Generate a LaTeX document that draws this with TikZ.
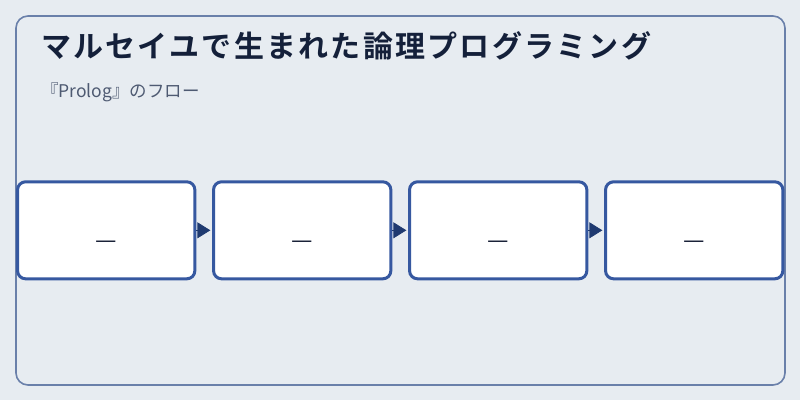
\documentclass[tikz,border=0pt]{standalone}
\usepackage{fontspec}
\setmainfont{Noto Sans CJK JP}[BoldFont={Noto Sans CJK JP Bold}]
\newfontfamily\titlefont{Noto Sans CJK JP Bold}[LetterSpace=7.5]
\usetikzlibrary{arrows.meta}
\definecolor{bgc}{HTML}{E7ECF1}
\definecolor{framec}{HTML}{6A80AA}
\definecolor{boxc}{HTML}{3658A0}
\definecolor{arrc}{HTML}{1F3A70}
\definecolor{titlec}{HTML}{14203A}
\definecolor{subc}{HTML}{4E5A72}
\definecolor{dashc}{HTML}{1A2238}
\tikzset{
  stepbox/.style={draw=boxc, line width=3pt, fill=white, rounded corners=8pt,
    minimum width=177.3pt, minimum height=97pt, inner sep=0pt},
  flowarrow/.style={draw=arrc, fill=arrc, line width=0.8pt, shorten >=1.7pt,
    -{Triangle[length=13pt,width=16pt]}},
  dashtxt/.style={text=dashc, font=\fontsize{24}{24}\selectfont, inner sep=0pt, anchor=base}
}
\begin{document}
\begin{tikzpicture}[x=1pt,y=-1pt]
\useasboundingbox (0,0) rectangle (800,400);
\fill[bgc] (0,0) rectangle (800,400);
\draw[framec, line width=1.6pt, rounded corners=12pt] (16,16) rectangle (785,385);
\node[anchor=base west, inner sep=0pt, text=titlec, font=\titlefont\fontsize{30}{34}\selectfont] (title) at (41,57.5) {マルセイユで生まれた論理プログラミング};
\node[anchor=base west, inner sep=0pt, text=subc, font=\fontsize{17.5}{20}\selectfont] (sub) at (41,97) {『Prolog』のフロー};
\node[stepbox] (b1) at (106.2,230.3) {};
\node[stepbox] (b2) at (302.2,230.3) {};
\node[stepbox] (b3) at (498.2,230.3) {};
\node[stepbox] (b4) at (694.2,230.3) {};
\node[dashtxt] (d1) at (106.2,248.5) {—};
\node[dashtxt] (d2) at (302.2,248.5) {—};
\node[dashtxt] (d3) at (498.2,248.5) {—};
\node[dashtxt] (d4) at (694.2,248.5) {—};
\draw[flowarrow] (b1.east) -- (b2.west);
\draw[flowarrow] (b2.east) -- (b3.west);
\draw[flowarrow] (b3.east) -- (b4.west);
\end{tikzpicture}
\end{document}
